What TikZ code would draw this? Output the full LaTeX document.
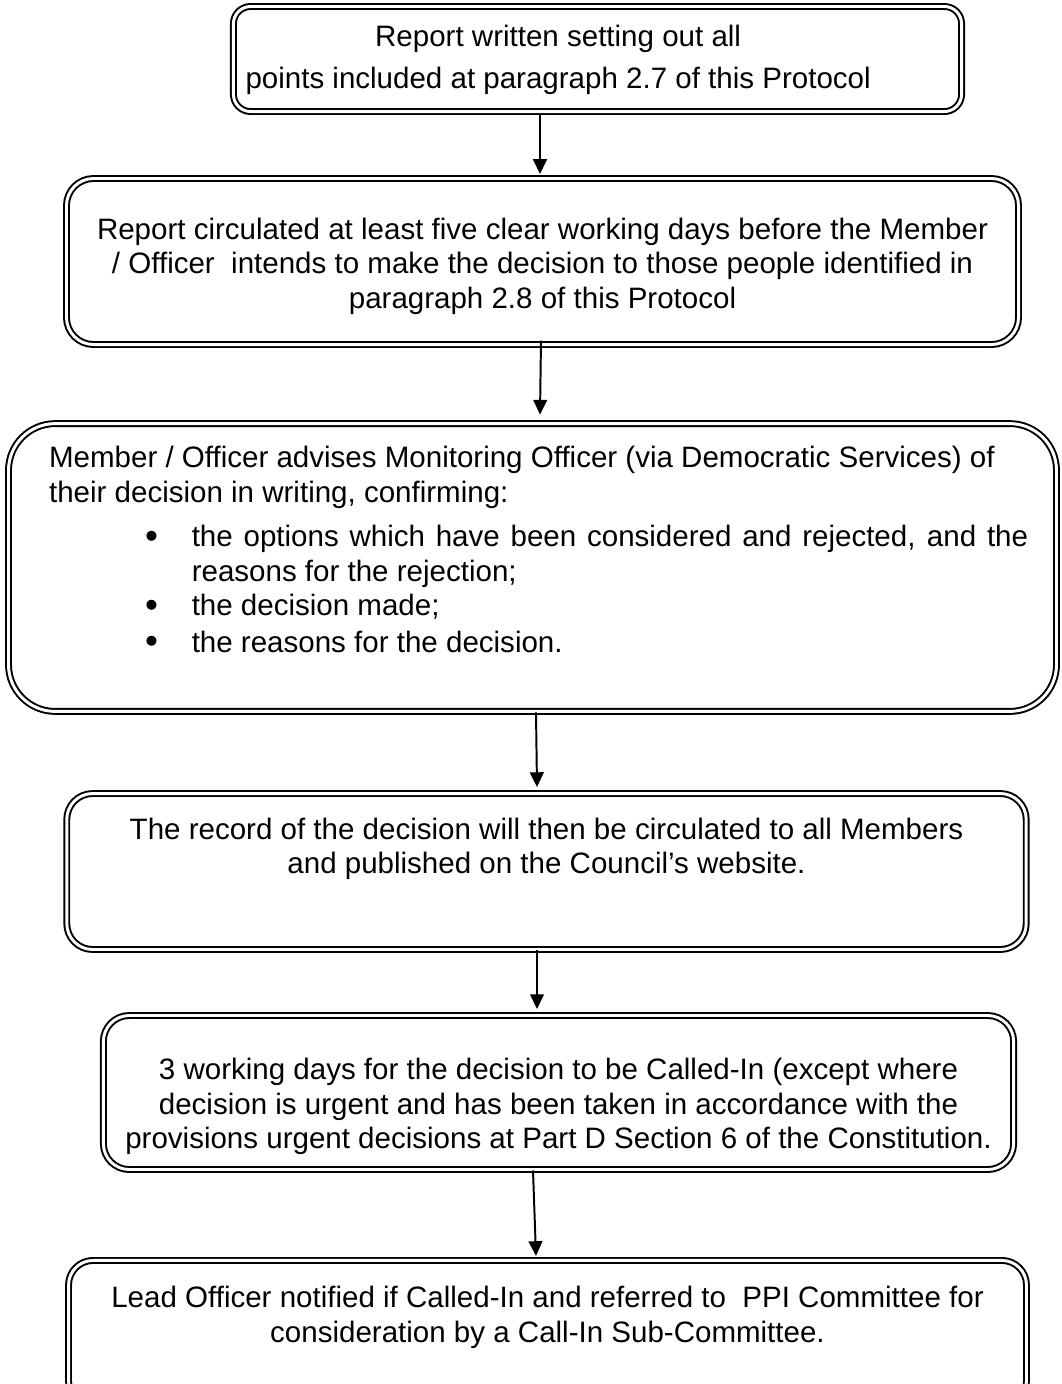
\documentclass[tikz,border=0pt]{standalone}
\usepackage{fontspec}
\setmainfont{Liberation Sans}
\usetikzlibrary{arrows.meta,calc}
\tikzset{
  stage/.style={draw, double, double distance=1.2pt, line width=0.8pt, inner sep=0pt,
    font=\fontsize{12}{14}\selectfont},
}
\newcommand{\bul}{\hspace*{39pt}\makebox[19pt][l]{\raisebox{-0.6pt}{\fontsize{15}{14}\selectfont\textbullet}}}
\begin{document}
\begin{tikzpicture}[x=0.4065pt,y=-0.4065pt,>={Triangle[length=6pt,width=5.6pt]}]
\useasboundingbox (0,0) rectangle (1062,1384);
\node[stage, rounded corners=7pt] (1) at (597.5,59) {\parbox[c][42.7pt][t]{296pt}{\centering\rightskip=32pt plus 1fil\vspace*{7.7pt}Report written setting out all\\[3pt]points included at paragraph 2.7 of this Protocol}};
\node[stage, rounded corners=11pt] (2) at (542.5,261.5) {\parbox[c][67.5pt][t]{387pt}{\centering\vspace*{16pt}Report circulated at least five clear working days before the Member\\/ Officer\ \ intends to make the decision to those people identified in\\paragraph 2.8 of this Protocol}};
\node[stage, rounded corners=19pt] (3) at (532.5,567.5) {\parbox[c][117pt][t]{426pt}{\vspace*{9.3pt}\raggedright\leftskip=16.5pt
Member / Officer advises Monitoring Officer (via Democratic Services) of\\
their decision in writing, confirming:\par\vspace{4pt}
\bul\parbox[t]{340pt}{the options which have been considered and rejected, and the reasons for the rejection;}\par\vspace{2pt}
\bul the decision made;\par\vspace{0.8pt}
\bul the reasons for the decision.}};
\node[stage, rounded corners=10.5pt] (4) at (546.5,871.5) {\parbox[c][63.4pt][t]{390pt}{\centering\vspace*{10pt}The record of the decision will then be circulated to all Members\\and published on the Council’s website.}};
\node[stage, rounded corners=10.5pt] (5) at (558.5,1092.5) {\parbox[c][62.6pt][t]{370pt}{\centering\vspace*{17.5pt}3 working days for the decision to be Called-In (except where\\decision is urgent and has been taken in accordance with the\\provisions urgent decisions at Part D Section 6 of the Constitution.}};
\node[stage, rounded corners=10pt] (6) at (547.5,1333) {\parbox[c][59pt][t]{389.4pt}{\centering\vspace*{10.5pt}Lead Officer notified if Called-In and referred to\ \ PPI Committee for\\consideration by a Call-In Sub-Committee.}};

\path[draw,thick,->] ($(1.south)+(-57.5,0)$) -- ($(2.north)+(-2.5,-3.5)$);
\path[draw,thick,->] ($(2.south)+(-1.5,-5)$) -- ($(3.north)+(7.5,-8)$);
\path[draw,thick,->] ($(3.south)+(3.5,0)$) -- ($(4.north)+(-9.5,-5.5)$);
\path[draw,thick,->] ($(4.south)+(-9.5,0)$) -- ($(5.north)+(-21.5,-5.5)$);
\path[draw,thick,->] ($(5.south)+(-25.5,0)$) -- ($(6.north)+(-11.5,-3.5)$);
\end{tikzpicture}
\end{document}
